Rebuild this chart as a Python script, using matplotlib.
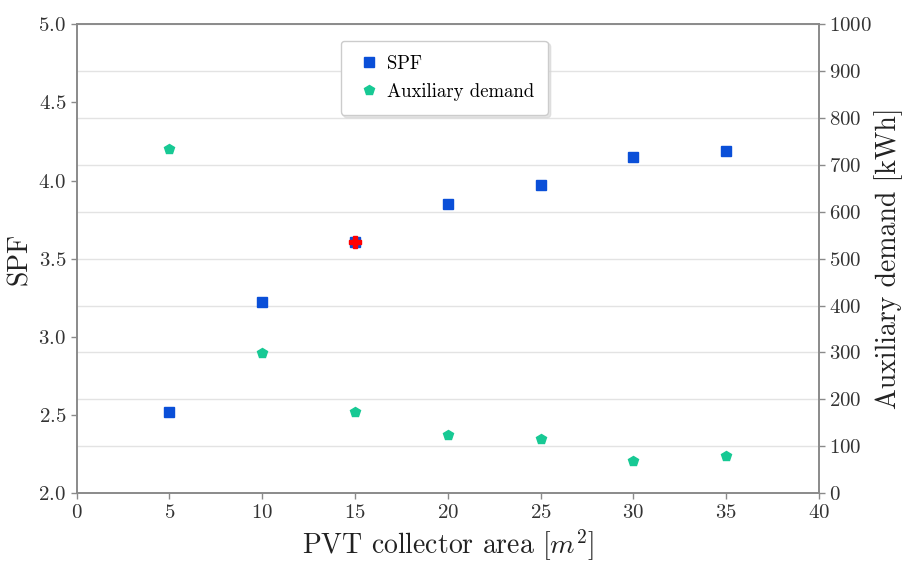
import matplotlib
matplotlib.use("Agg")
import matplotlib.pyplot as plt

plt.rcParams['font.family'] = ['cmr10', 'DejaVu Serif']
plt.rcParams['mathtext.fontset'] = 'cm'
plt.rcParams['axes.formatter.use_mathtext'] = True

area = [5, 10, 15, 20, 25, 30, 35]
spf = [2.52, 3.22, 3.61, 3.85, 3.97, 4.15, 4.19]
aux = [733, 298, 173, 124, 115, 68, 79]
sel_area = [15]
sel_spf = [3.61]

blue = '#0a4fd8'
green = '#17c994'
spine_c = '#8a8a8a'

fig, ax = plt.subplots(figsize=(9.02, 5.63), dpi=100)
fig.subplots_adjust(left=0.085, right=0.908, top=0.957, bottom=0.124)
ax2 = ax.twinx()

ax.plot(area, spf, 's', color=blue, ms=7, label='SPF', zorder=3)
h2, = ax2.plot(area, aux, 'p', color=green, ms=7.5, label='Auxiliary demand', zorder=3)
ax.plot(sel_area, sel_spf, 'P', color='red', ms=9, zorder=4)

ax.set_xlim(0, 40)
ax.set_ylim(2.0, 5.0)
ax2.set_ylim(0, 1000)
ax.set_xticks(range(0, 41, 5))
ax.set_yticks([2.0, 2.5, 3.0, 3.5, 4.0, 4.5, 5.0])
ax2.set_yticks(range(0, 1001, 100))

ax2.grid(axis='y', color='#e3e3e3', lw=1)
ax.set_zorder(ax2.get_zorder() + 1)
ax.patch.set_visible(False)

for a in (ax, ax2):
    for s in a.spines.values():
        s.set_color(spine_c)
        s.set_linewidth(1.2)
    a.tick_params(labelsize=15, color=spine_c, length=4, width=1, labelcolor='#333333')

ax.set_xlabel('PVT collector area $[m^2]$', fontsize=20, color='#222222')
ax.set_ylabel('SPF', fontsize=20, color='#222222')
ax2.set_ylabel('Auxiliary demand [kWh]', fontsize=20, color='#222222', labelpad=1)

h1 = ax.get_lines()[0]
leg = ax.legend([h1, h2], ['SPF', 'Auxiliary demand'], loc='upper left',
                bbox_to_anchor=(0.343, 0.985), fontsize=13.5, frameon=True,
                fancybox=True, shadow={'color': '#d5d5d5', 'alpha': 0.6},
                borderpad=0.75, labelspacing=0.55,
                handletextpad=0.2, handlelength=1.5)
leg.get_frame().set_edgecolor('#cccccc')

fig.savefig('out.png', dpi=100)
